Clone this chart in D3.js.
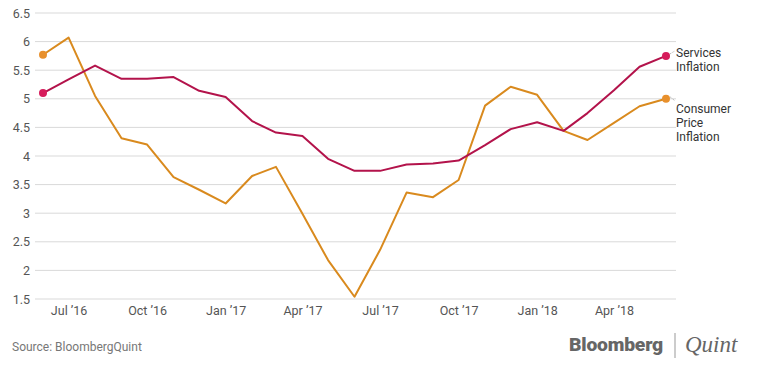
<!DOCTYPE html>
<html><head><meta charset="utf-8">
<script src="https://cdn.jsdelivr.net/npm/d3@7"></script>
<style>
body{margin:0;background:#fff;}
svg{display:block;font-family:Roboto, "Open Sans", sans-serif;}
</style></head>
<body>
<svg id="chart" width="759" height="379"></svg>
<script>
const months = ["2016-06","2016-07","2016-08","2016-09","2016-10","2016-11","2016-12",
  "2017-01","2017-02","2017-03","2017-04","2017-05","2017-06","2017-07","2017-08","2017-09",
  "2017-10","2017-11","2017-12","2018-01","2018-02","2018-03","2018-04","2018-05","2018-06"];
const servicesInflation = [5.10,5.34,5.58,5.35,5.35,5.38,5.14,5.03,4.61,4.41,4.35,3.95,3.74,3.74,
  3.85,3.87,3.92,4.19,4.47,4.59,4.44,4.75,5.15,5.56,5.75];
const consumerPriceInflation = [5.77,6.07,5.05,4.31,4.20,3.63,3.41,3.17,3.65,3.81,2.99,2.18,1.54,
  2.36,3.36,3.28,3.58,4.88,5.21,5.07,4.44,4.28,4.58,4.87,5.00];
const yTicks = [1.5,2,2.5,3,3.5,4,4.5,5,5.5,6,6.5];
const xTickMonths = ["2016-07","2016-10","2017-01","2017-04","2017-07","2017-10","2018-01","2018-04"];
const seriesNames = [["Services","Inflation"],["Consumer","Price","Inflation"]];

const parse = d3.timeParse("%Y-%m");
const dates = months.map(parse);
const svg = d3.select("#chart");

const x = d3.scaleTime().domain([dates[0], dates[dates.length-1]]).range([43, 666]);
const y = d3.scaleLinear().domain([1.5, 6.5]).range([299, 13]);

// grid
svg.append("g").selectAll("line").data(yTicks).join("line")
  .attr("x1", 35).attr("x2", 676)
  .attr("y1", d => y(d)).attr("y2", d => y(d))
  .attr("stroke", "#d9d9d9").attr("stroke-width", 1);

// y labels
const yAxis = d3.axisLeft(y).tickValues(yTicks).tickSize(0).tickPadding(0).tickFormat(d3.format("~g"));
const gy = svg.append("g").attr("transform", "translate(30,0)").call(yAxis);
gy.select(".domain").remove();
gy.selectAll("text").attr("font-size", 12.5).attr("fill", "#555").attr("font-family", "Roboto, sans-serif");

// x labels
const fmt = d3.timeFormat("%b '%y");
const xAxis = d3.axisBottom(x).tickValues(xTickMonths.map(parse)).tickSize(0).tickPadding(0)
  .tickFormat(d => fmt(d).replace("'", "\u2019"));
const gx = svg.append("g").attr("transform", "translate(0,306)").call(xAxis);
gx.select(".domain").remove();
gx.selectAll("text").attr("font-size", 12.5).attr("fill", "#555").attr("font-family", "Roboto, sans-serif");

const line = d3.line().x((d,i) => x(dates[i])).y(d => y(d));

const series = [
  {vals: servicesInflation, stroke: "#b3134b", dot: "#d61c5b", names: seriesNames[0], ly: 52},
  {vals: consumerPriceInflation, stroke: "#d98a1e", dot: "#e8902c", names: seriesNames[1], ly: 108}
];

series.slice().reverse().forEach(s => {
  svg.append("path").datum(s.vals).attr("d", line)
    .attr("fill", "none").attr("stroke", s.stroke).attr("stroke-width", 2)
    .attr("stroke-linejoin", "round");
});

series.forEach(s => {
  const n = s.vals.length;
  [0, n-1].forEach(i => {
    svg.append("circle").attr("cx", x(dates[i])).attr("cy", y(s.vals[i])).attr("r", 4)
      .attr("fill", s.dot);
  });
  const lx = x(dates[n-1]), ly = y(s.vals[n-1]);
  svg.append("line").attr("x1", lx + 4).attr("y1", ly - 2).attr("x2", lx + 9).attr("y2", ly - 5 + (s === series[1] ? 7 : 0))
    .attr("stroke", "#999").attr("stroke-width", 0.8).attr("stroke-dasharray", "1,1");
  const t = svg.append("text").attr("x", 676).attr("y", s.ly + 4.5)
    .attr("font-size", 12).attr("fill", "#333").attr("font-family", "Roboto, sans-serif");
  s.names.forEach((nm, k) => {
    t.append("tspan").attr("x", 676).attr("dy", k === 0 ? 0 : 14).text(nm);
  });
});

// source
svg.append("text").attr("x", 12).attr("y", 351).attr("font-size", 12)
  .attr("fill", "#777").attr("font-family", "Roboto, sans-serif").text("Source: BloombergQuint");

// logo
svg.append("text").attr("x", 569).attr("y", 350.5).attr("font-size", 19).attr("font-weight", 900)
  .attr("fill", "#666").attr("font-family", "Roboto, Arial, sans-serif").attr("letter-spacing", -0.2)
  .attr("textLength", 94).attr("lengthAdjust", "spacingAndGlyphs").text("Bloomberg");
svg.append("line").attr("x1", 675).attr("x2", 675).attr("y1", 333).attr("y2", 358)
  .attr("stroke", "#999").attr("stroke-width", 1);
svg.append("text").attr("x", 685).attr("y", 352).attr("font-size", 23).attr("font-style", "italic")
  .attr("fill", "#666").attr("font-family", "Liberation Serif, DejaVu Serif, serif").text("Quint");
</script>
</body></html>
